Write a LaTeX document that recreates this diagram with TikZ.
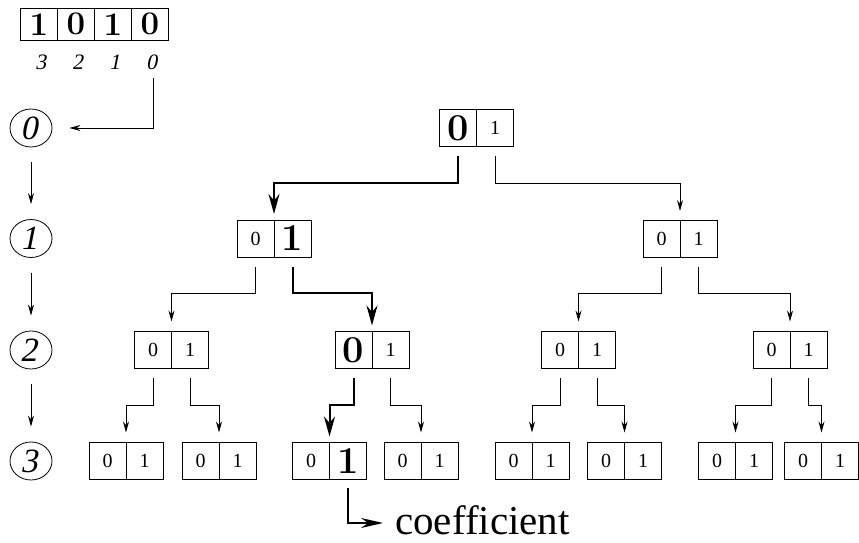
\documentclass[tikz,border=0pt]{standalone}
\usepackage{fontspec}
\newfontfamily\timesfont{Liberation Serif}
\usetikzlibrary{positioning}
\usetikzlibrary{shapes.geometric}
\usetikzlibrary{arrows.meta}

\tikzset{
	cell/.style={draw,line width=0.8pt,minimum width=37pt,minimum height=37pt,inner sep=0pt,outer sep=0pt,font=\timesfont\fontsize{20}{24}\selectfont},
	topcell/.style={draw,line width=0.8pt,minimum width=37pt,minimum height=32.5pt,inner sep=0pt,outer sep=0pt,font=\fontsize{33}{40}\selectfont\bfseries},
	index/.style={inner sep=0pt,font=\timesfont\fontsize{22}{26}\selectfont},
	depthmark/.style={ellipse,draw,line width=0.8pt,minimum width=42pt,minimum height=38pt,inner sep=0pt,font=\timesfont\fontsize{34}{40}\selectfont},
	thinarrow/.style={line width=0.8pt,-{Stealth[length=11pt,width=6pt]}},
	boldarrow/.style={line width=2pt,-{Stealth[length=20pt,width=11pt]}}
}
% sloped digit
\newcommand{\slnum}[1]{\tikz[baseline=0pt]\node[shape=rectangle,draw=none,minimum width=0pt,minimum height=0pt,anchor=base,inner sep=0pt,xslant=0.2,transform shape] {#1};}
% bold bit inside a tree cell
\newcommand{\hibit}[1]{{\normalfont\fontsize{38}{44}\selectfont\bfseries #1}}
% two-cell box: name, centre x, centre y, left, right
\newcommand{\bitbox}[5]{%
	\node[cell] (#1-0) at (#2-18.5,#3) {#4};
	\node[cell,right=0pt of #1-0] (#1-1) {#5};}

\begin{document}
\begin{tikzpicture}[x=1pt,y=1pt]
	\useasboundingbox (0,0) rectangle (859,543);
	% the index 1010
	\node[topcell] (t3) at (39,518.75) {1};
	\node[topcell,right=0pt of t3] (t2) {0};
	\node[topcell,right=0pt of t2] (t1) {1};
	\node[topcell,right=0pt of t1] (t0) {0};
	\node[index] (i3) at (42,481) {\slnum{3}};
	\node[index] (i2) at (79,481) {\slnum{2}};
	\node[index] (i1) at (116,481) {\slnum{1}};
	\node[index] (i0) at (153,481) {\slnum{0}};
	% depth markers
	\node[depthmark] (s0) at (31,415) {\slnum{0}};
	\node[depthmark] (s1) at (31,304.5) {\slnum{1}};
	\node[depthmark] (s2) at (31,193) {\slnum{2}};
	\node[depthmark] (s3) at (31,82) {\slnum{3}};
	\draw[thinarrow] ([yshift=-8pt]i0.south) |- ([xshift=17pt]s0.east);
	\draw[thinarrow] ([yshift=-15pt]s0.south) -- ([yshift=15pt]s1.north);
	\draw[thinarrow] ([yshift=-15pt]s1.south) -- ([yshift=15pt]s2.north);
	\draw[thinarrow] ([yshift=-15pt]s2.south) -- ([yshift=15pt]s3.north);
	% the tree
	\bitbox{root}{476.5}{415}{\hibit{0}}{1}
	\bitbox{l1a}{274}{304.5}{0}{\hibit{1}}
	\bitbox{l1b}{680}{304.5}{0}{1}
	\bitbox{l2a}{171.5}{193}{0}{1}
	\bitbox{l2b}{372}{193}{\hibit{0}}{1}
	\bitbox{l2c}{578.5}{193}{0}{1}
	\bitbox{l2d}{790}{193}{0}{1}
	\bitbox{l3a}{126}{82}{0}{1}
	\bitbox{l3b}{219}{82}{0}{1}
	\bitbox{l3c}{329.5}{82}{0}{\hibit{1}}
	\bitbox{l3d}{421}{82}{0}{1}
	\bitbox{l3e}{532}{82}{0}{1}
	\bitbox{l3f}{624.5}{82}{0}{1}
	\bitbox{l3g}{735.5}{82}{0}{1}
	\bitbox{l3h}{821.5}{82}{0}{1}
	\node[anchor=base west,inner sep=0pt,font=\timesfont\fontsize{41}{48}\selectfont] (coef) at (395,8) {coefficient};
	% level 0 -> 1
	\draw[boldarrow] ([yshift=-10pt]root-0.south) -- ++(0,-27) -| ([yshift=6pt]l1a-0.north east);
	\draw[thinarrow] ([yshift=-10pt]root-1.south) -- ++(0,-27) -| ([yshift=9pt]l1b-0.north east);
	% level 1 -> 2
	\draw[thinarrow] ([yshift=-10pt]l1a-0.south) -- ++(0,-26) -| ([yshift=10pt]l2a-0.north east);
	\draw[boldarrow] ([yshift=-10pt]l1a-1.south) -- ++(0,-26) -| ([yshift=6pt]l2b-0.north east);
	\draw[thinarrow] ([yshift=-10pt]l1b-0.south) -- ++(0,-26) -| ([yshift=10pt]l2c-0.north east);
	\draw[thinarrow] ([yshift=-10pt]l1b-1.south) -- ++(0,-26) -| ([yshift=10pt]l2d-0.north east);
	% level 2 -> 3
	\draw[thinarrow] ([yshift=-10pt]l2a-0.south) -- ++(0,-27) -| ([yshift=10pt]l3a-0.north east);
	\draw[thinarrow] ([yshift=-10pt]l2a-1.south) -- ++(0,-27) -| ([yshift=10pt]l3b-0.north east);
	\draw[boldarrow] ([yshift=-10pt]l2b-0.south) -- ++(0,-27) -| ([yshift=6pt]l3c-0.north east);
	\draw[thinarrow] ([yshift=-10pt]l2b-1.south) -- ++(0,-27) -| ([yshift=10pt]l3d-0.north east);
	\draw[thinarrow] ([yshift=-10pt]l2c-0.south) -- ++(0,-27) -| ([yshift=10pt]l3e-0.north east);
	\draw[thinarrow] ([yshift=-10pt]l2c-1.south) -- ++(0,-27) -| ([yshift=10pt]l3f-0.north east);
	\draw[thinarrow] ([yshift=-10pt]l2d-0.south) -- ++(0,-27) -| ([yshift=10pt]l3g-0.north east);
	\draw[thinarrow] ([yshift=-10pt]l2d-1.south) -- ++(0,-27) -| ([yshift=10pt]l3h-0.north east);
	% result
	\draw[line width=2pt,-{Stealth[length=22pt,width=10pt]}] ([yshift=-9pt]l3c-1.south) |- ([xshift=-12pt,yshift=12pt]coef.base west);
\end{tikzpicture}
\end{document}
